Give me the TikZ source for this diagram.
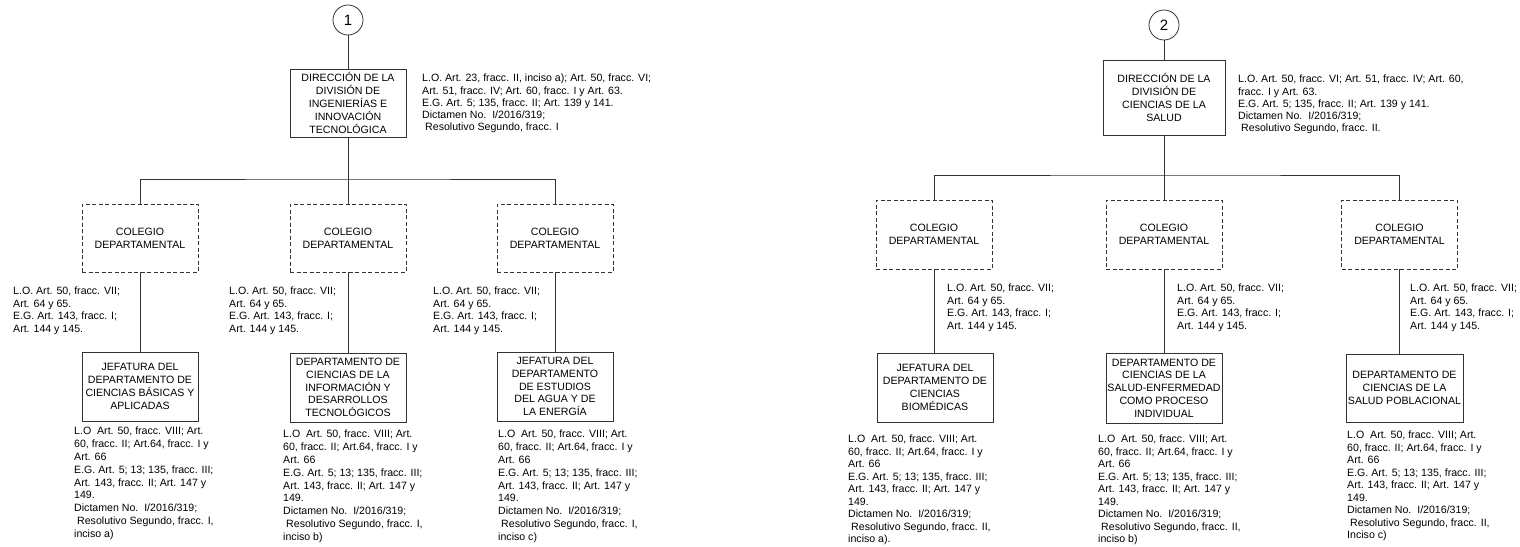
\documentclass[tikz,border=0pt]{standalone}
\usepackage{fontspec}
\setmainfont{Liberation Sans}
\usetikzlibrary{positioning}

\newcommand{\notacol}{L.O. Art. 50, fracc. VII;\\Art. 64 y 65.\\E.G. Art. 143, fracc. I;\\Art. 144 y 145.}
\newcommand{\notadep}[2]{L.O\ \ Art. 50, fracc. VIII; Art.\\60, fracc. II; Art.64, fracc. I y\\Art. 66\\E.G. Art. 5; 13; 135, fracc. III;\\Art. 143, fracc. II; Art. 147 y\\149.\\Dictamen No.\ \ I/2016/319;\\\hspace*{3pt}Resolutivo Segundo, fracc. #1,\\#2}

\begin{document}
\begin{tikzpicture}[x=1pt, y=-1pt,
    linea/.style={line width=0.8pt, black!80},
    unidad/.style={draw=black!80, line width=0.8pt, minimum width=116pt, minimum height=68pt, inner sep=1pt, align=center, font=\fontsize{10.6}{12.8}\selectfont},
    colegio/.style={unidad, dash pattern=on 4pt off 2.5pt},
    nota/.style={anchor=north west, inner sep=0pt, align=left, font=\fontsize{10.6}{12.5}\selectfont},
    notab/.style={nota, font=\fontsize{10.6}{12.8}\selectfont},
    num/.style={circle, draw=black!80, line width=0.8pt, minimum size=30pt, inner sep=0pt, font=\fontsize{15}{17}\selectfont}]
  \useasboundingbox (0,0) rectangle (1520,546);
  % division 1
  \node[num] (c1) at (348,20) {1};
  \node[unidad] (dir1) at (348,103) {DIRECCIÓN DE LA\\ DIVISIÓN DE\\ INGENIERÍAS E\\ INNOVACIÓN\\ TECNOLÓGICA};
  \node[nota, font=\fontsize{10.6}{12.2}\selectfont] (ndir1) at (422,74) {L.O. Art. 23, fracc. II, inciso a); Art. 50, fracc. VI;\\ Art. 51, fracc. IV; Art. 60, fracc. I y Art. 63.\\ E.G. Art. 5; 135, fracc. II; Art. 139 y 141.\\ Dictamen No.\ \ I/2016/319;\\ \hspace*{3pt}Resolutivo Segundo, fracc. I};
  \coordinate (bus1) at (348,179);
  \node[colegio] (col11) at (140,238) {COLEGIO\\ DEPARTAMENTAL};
  \node[colegio] (col12) at (348,238) {COLEGIO\\ DEPARTAMENTAL};
  \node[colegio] (col13) at (555,238) {COLEGIO\\ DEPARTAMENTAL};
  \node[nota] (ncol11) at (13,287) {\notacol};
  \node[nota] (ncol12) at (229,287) {\notacol};
  \node[nota] (ncol13) at (433,287) {\notacol};
  \node[unidad, minimum height=69pt] (dep11) at (140,386.5) {JEFATURA DEL\\ DEPARTAMENTO DE\\ CIENCIAS BÁSICAS Y\\ APLICADAS};
  \node[unidad, minimum height=69pt] (dep12) at (348,387.5) {DEPARTAMENTO DE\\ CIENCIAS DE LA\\ INFORMACIÓN Y\\ DESARROLLOS\\ TECNOLÓGICOS};
  \node[unidad, minimum height=69pt] (dep13) at (555,386.5) {JEFATURA DEL\\ DEPARTAMENTO\\ DE ESTUDIOS\\ DEL AGUA Y DE\\ LA ENERGÍA};
  \node[notab] (ndep11) at (74,427) {\notadep{I}{inciso a)}};
  \node[notab] (ndep12) at (283,430) {\notadep{I}{inciso b)}};
  \node[notab] (ndep13) at (498,430) {\notadep{I}{inciso c)}};
  \draw[linea] (c1) -- (dir1);
  \draw[linea] (dir1.south) -- (col12.north);
  \draw[linea] (col11.north) |- (bus1) -| (col13.north);
  \draw[linea] (col11.south) -- (col11.south |- dep11.north);
  \draw[linea] (col12.south) -- (col12.south |- dep12.north);
  \draw[linea] (col13.south) -- (col13.south |- dep13.north);
  % division 2
  \node[num] (c2) at (1164,25) {2};
  \node[unidad, minimum width=122pt, minimum height=75pt] (dir2) at (1164,97.5) {DIRECCIÓN DE LA\\ DIVISIÓN DE\\ CIENCIAS DE LA\\ SALUD};
  \node[nota, font=\fontsize{10.6}{12.2}\selectfont] (ndir2) at (1238,75) {L.O. Art. 50, fracc. VI; Art. 51, fracc. IV; Art. 60,\\ fracc. I y Art. 63.\\ E.G. Art. 5; 135, fracc. II; Art. 139 y 141.\\ Dictamen No.\ \ I/2016/319;\\ \hspace*{3pt}Resolutivo Segundo, fracc. II.};
  \coordinate (bus2) at (1164,175);
  \node[colegio, minimum height=69pt] (col21) at (934,234.5) {COLEGIO\\ DEPARTAMENTAL};
  \node[colegio, minimum height=69pt] (col22) at (1164,234.5) {COLEGIO\\ DEPARTAMENTAL};
  \node[colegio, minimum height=69pt] (col23) at (1399.5,234.5) {COLEGIO\\ DEPARTAMENTAL};
  \node[nota] (ncol21) at (947,284) {\notacol};
  \node[nota] (ncol22) at (1177,284) {\notacol};
  \node[nota] (ncol23) at (1410,284) {\notacol};
  \node[unidad, minimum height=69pt] (dep21) at (935,387.5) {JEFATURA DEL\\ DEPARTAMENTO DE\\ CIENCIAS\\ BIOMÉDICAS};
  \node[unidad, minimum height=70pt] (dep22) at (1164,388) {DEPARTAMENTO DE\\ CIENCIAS DE LA\\ SALUD-ENFERMEDAD\\ COMO PROCESO\\ INDIVIDUAL};
  \node[unidad, minimum width=117pt] (dep23) at (1404.5,388) {DEPARTAMENTO DE\\ CIENCIAS DE LA\\ SALUD POBLACIONAL};
  \node[notab, font=\fontsize{10.6}{12.5}\selectfont] (ndep21) at (848,435) {\notadep{II}{inciso a).}};
  \node[notab, font=\fontsize{10.6}{12.5}\selectfont] (ndep22) at (1098,435) {\notadep{II}{inciso b)}};
  \node[notab, font=\fontsize{10.6}{12.5}\selectfont] (ndep23) at (1347,431) {\notadep{II}{Inciso c)}};
  \draw[linea] (c2) -- (dir2);
  \draw[linea] (dir2.south) -- (col22.north);
  \draw[linea] (col21.north) |- (bus2) -| (col23.north);
  \draw[linea] (col21.south) -- (col21.south |- dep21.north);
  \draw[linea] (col22.south) -- (col22.south |- dep22.north);
  \draw[linea] (col23.south) -- (col23.south |- dep23.north);
\end{tikzpicture}
\end{document}
